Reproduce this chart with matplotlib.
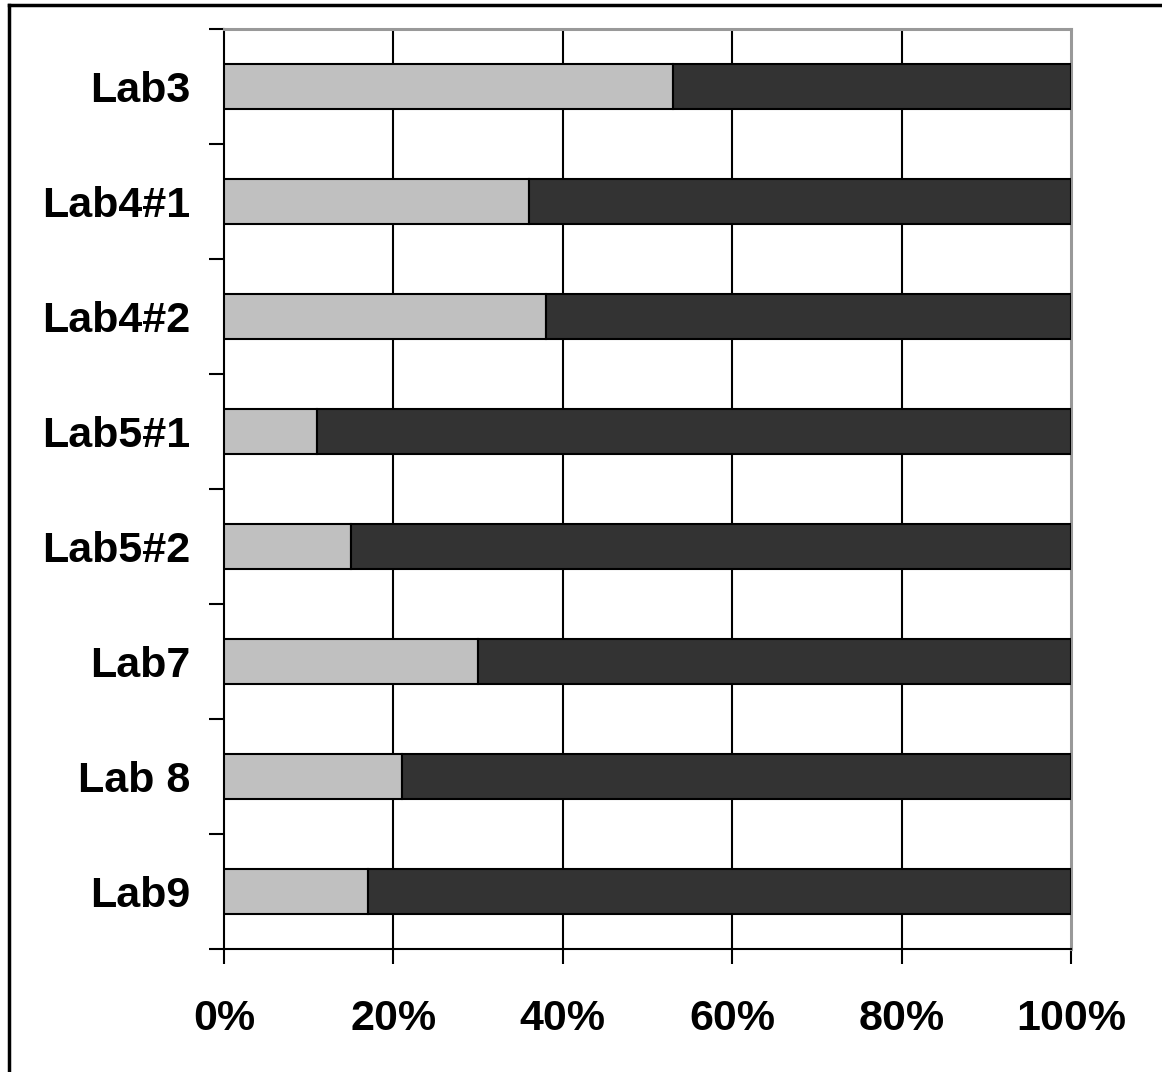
import matplotlib
matplotlib.use("Agg")
import matplotlib.pyplot as plt
from matplotlib.lines import Line2D
from matplotlib.ticker import FixedLocator, PercentFormatter

# Data: share of each lab split into two parts (percent)
labs = ["Lab3", "Lab4#1", "Lab4#2", "Lab5#1", "Lab5#2", "Lab7", "Lab 8", "Lab9"]
part_light = [53, 36, 38, 11, 15, 30, 21, 17]
part_dark = [47, 64, 62, 89, 85, 70, 79, 83]
x_ticks = [0, 20, 40, 60, 80, 100]

plt.rcParams["font.family"] = ["Liberation Sans", "DejaVu Sans"]

W, H = 1162, 1072
fig = plt.figure(figsize=(W / 100, H / 100), dpi=100)
ax = fig.add_axes([224 / W, 1 - 949 / H, (1071 - 224) / W, (949 - 29) / H])

n = len(labs)
ypos = list(range(n))
bar_h = 0.39
ax.barh(ypos, part_light, height=bar_h, color="#c0c0c0",
        edgecolor="#000000", linewidth=1.5, zorder=3)
ax.barh(ypos, part_dark, left=part_light, height=bar_h, color="#333333",
        edgecolor="#000000", linewidth=1.5, zorder=3)

ax.set_xlim(0, 100)
ax.set_ylim(n - 0.5, -0.5)

# vertical gridlines
ax.set_xticks(x_ticks)
ax.xaxis.set_major_formatter(PercentFormatter(decimals=0))
for v in x_ticks[1:-1]:
    ax.axvline(v, color="#000000", linewidth=1.5, zorder=1)

# category labels, tick marks between categories
ax.set_yticks(ypos)
ax.set_yticklabels(labs)
ax.yaxis.set_minor_locator(FixedLocator([i - 0.5 for i in range(n + 1)]))
ax.tick_params(axis="y", which="major", length=0, pad=24)
ax.tick_params(axis="y", which="minor", length=11, width=1.5, direction="out")
ax.tick_params(axis="x", which="major", length=11, width=1.5, direction="out", pad=25)

for lab in ax.get_yticklabels() + ax.get_xticklabels():
    lab.set_fontsize(31)
    lab.set_fontweight("bold")

for s in ("left", "bottom"):
    ax.spines[s].set_color("#000000")
    ax.spines[s].set_linewidth(1.5)
for s in ("top", "right"):
    ax.spines[s].set_color("#999999")
    ax.spines[s].set_linewidth(2.2)

# outer frame
fig.add_artist(Line2D([8.5 / W, 8.5 / W], [0, 1 - 4.5 / H], transform=fig.transFigure,
                      color="#000000", linewidth=2.5))
fig.add_artist(Line2D([8.5 / W, 1], [1 - 4.5 / H, 1 - 4.5 / H], transform=fig.transFigure,
                      color="#000000", linewidth=2.5))

fig.savefig("out.png", dpi=100)
